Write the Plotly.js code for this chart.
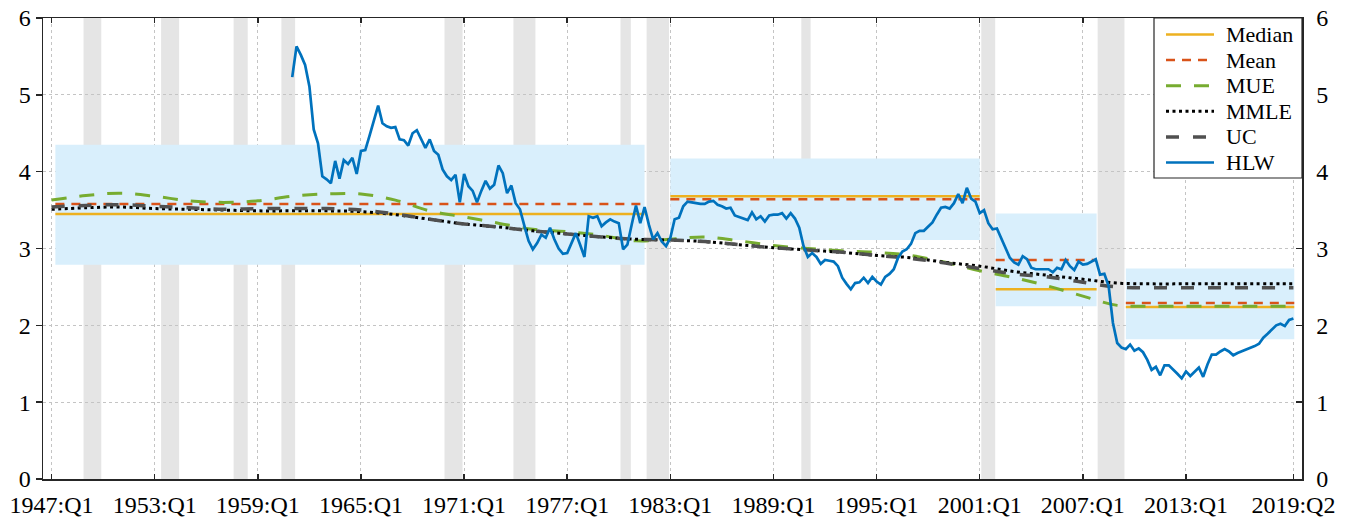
<!DOCTYPE html>
<html><head><meta charset="utf-8">
<script src="https://cdn.plot.ly/plotly-3.0.1.min.js"></script>
<style>html,body{margin:0;padding:0;background:#fff}#chart{width:1356px;height:520px}</style>
</head><body><div id="chart"></div>
<script>
// ---- data ----
const tickVals = [1947, 1953, 1959, 1965, 1971, 1977, 1983, 1989, 1995, 2001, 2007, 2013, 2019.25];
const tickText = ["1947:Q1","1953:Q1","1959:Q1","1965:Q1","1971:Q1","1977:Q1","1983:Q1","1989:Q1","1995:Q1","2001:Q1","2007:Q1","2013:Q1","2019:Q2"];

// NBER recessions (shaded), decimal years
const recessionStart = [1948.86, 1953.37, 1957.59, 1960.37, 1969.86, 1973.87, 1980.10, 1981.62, 1990.62, 2001.09, 2007.86];
const recessionEnd   = [1949.89, 1954.42, 1958.41, 1961.17, 1970.91, 1975.15, 1980.70, 1982.92, 1991.16, 2001.90, 2009.42];

// Regimes: median, mean and band
const regimeStart = [1947.22, 1983.00, 2001.93, 2009.50];
const regimeEnd   = [1981.50, 2001.00, 2007.80, 2019.30];
const medianVals  = [3.45, 3.68, 2.47, 2.24];
const meanVals    = [3.58, 3.64, 2.85, 2.29];
const bandLow     = [2.79, 3.11, 2.25, 1.82];
const bandHigh    = [4.35, 4.17, 3.455, 2.74];

// Smooth estimates sampled every two years
const smoothYears = [1947,1949,1951,1953,1955,1957,1959,1961,1963,1965,1967,1969,1971,1973,1975,1977,1979,1981,1983,1985,1987,1989,1991,1993,1995,1997,1999,2001,2003,2005,2007,2009,2011,2013,2015,2017,2019,2019.25];
const mue  = [3.63,3.69,3.72,3.68,3.62,3.60,3.62,3.68,3.71,3.71,3.63,3.49,3.41,3.33,3.25,3.22,3.17,3.10,3.12,3.15,3.10,3.04,3.00,2.97,2.95,2.91,2.82,2.71,2.62,2.51,2.38,2.26,2.25,2.25,2.25,2.25,2.25,2.25];
const mmle = [3.51,3.53,3.54,3.52,3.51,3.50,3.49,3.49,3.49,3.48,3.44,3.38,3.32,3.28,3.23,3.19,3.15,3.12,3.11,3.09,3.05,3.01,2.98,2.95,2.91,2.88,2.82,2.77,2.70,2.65,2.60,2.55,2.54,2.54,2.54,2.54,2.54,2.54];
const uc   = [3.54,3.56,3.57,3.55,3.53,3.51,3.52,3.52,3.52,3.50,3.45,3.38,3.32,3.28,3.23,3.19,3.15,3.12,3.11,3.09,3.05,3.01,2.98,2.95,2.91,2.87,2.81,2.74,2.67,2.63,2.56,2.50,2.49,2.49,2.49,2.49,2.49,2.49];

// HLW, quarterly from 1961:Q1 to 2019:Q2
const hlwStartYear = 1961;
const hlw = [
5.23,5.63,5.52,5.39, 5.11,4.55,4.37,3.94, 3.90,3.85,4.14,3.91, 4.15,4.10,4.18,3.97,
4.27,4.28,4.47,4.66, 4.86,4.63,4.59,4.57, 4.58,4.42,4.41,4.34, 4.50,4.54,4.43,4.31,
4.42,4.27,4.22,4.03, 3.94,3.89,3.96,3.60, 3.97,3.81,3.75,3.60, 3.75,3.88,3.78,3.83,
4.08,3.98,3.72,3.82, 3.59,3.51,3.30,3.10, 2.99,3.07,3.18,3.14, 3.27,3.12,3.00,2.93,
2.94,3.06,3.20,3.05, 2.89,3.42,3.40,3.42, 3.29,3.34,3.38,3.35, 3.33,2.99,3.05,3.31,
3.56,3.33,3.54,3.31, 3.12,3.20,3.09,3.03, 3.14,3.38,3.40,3.55, 3.61,3.60,3.59,3.58,
3.58,3.61,3.62,3.57, 3.55,3.52,3.53,3.43, 3.41,3.39,3.37,3.47, 3.38,3.42,3.35,3.43,
3.44,3.44,3.46,3.39, 3.46,3.39,3.27,3.03, 2.89,2.94,2.89,2.80, 2.85,2.84,2.83,2.77,
2.62,2.54,2.47,2.55, 2.56,2.62,2.55,2.63, 2.57,2.53,2.63,2.67, 2.73,2.88,2.96,2.99,
3.06,3.20,3.23,3.23, 3.29,3.34,3.44,3.53, 3.54,3.52,3.59,3.71, 3.59,3.79,3.65,3.61,
3.46,3.50,3.33,3.25, 3.26,3.14,3.01,2.88, 2.82,2.79,2.90,2.86, 2.75,2.73,2.73,2.73,
2.73,2.69,2.75,2.73, 2.85,2.77,2.72,2.83, 2.79,2.80,2.83,2.86, 2.66,2.67,2.51,2.03,
1.77,1.71,1.69,1.75, 1.67,1.70,1.65,1.55, 1.42,1.46,1.35,1.48, 1.48,1.43,1.37,1.31,
1.40,1.34,1.40,1.45, 1.33,1.49,1.62,1.62, 1.66,1.69,1.66,1.61, 1.64,1.66,1.68,1.71,
1.73,1.76,1.84,1.89, 1.94,2.00,2.02,1.99, 2.07,2.09
];

// ---- build ----
const hlwX = hlw.map((v, i) => hlwStartYear + i / 4);
function steps(vals) {
  const x = [], y = [];
  vals.forEach((v, i) => { x.push(regimeStart[i], regimeEnd[i], null); y.push(v, v, null); });
  return {x, y};
}
const med = steps(medianVals), mn = steps(meanVals);

const FONT = 'Liberation Serif, Times New Roman, serif';
const styles = {
  Median:{color:'#EDB120', width:2.5},
  Mean:{color:'#D95319', width:2.5, dash:'9px,7px'},
  MUE:{color:'#77AC30', width:3, dash:'15px,13px'},
  MMLE:{color:'#000000', width:3, dash:'3px,3.5px'},
  UC:{color:'#505050', width:3.5, dash:'13px,14px'},
  HLW:{color:'#0072BD', width:2.7}
};
const names = ['Median','Mean','MUE','MMLE','UC','HLW'];

const traces = [
  {type:'scatter', mode:'lines', name:'Median', x:med.x, y:med.y, line:styles.Median, hoverinfo:'skip'},
  {type:'scatter', mode:'lines', name:'Mean', x:mn.x, y:mn.y, line:styles.Mean, hoverinfo:'skip'},
  {type:'scatter', mode:'lines', name:'MUE', x:smoothYears, y:mue, line:Object.assign({shape:'spline'}, styles.MUE), hoverinfo:'skip'},
  {type:'scatter', mode:'lines', name:'MMLE', x:smoothYears, y:mmle, line:Object.assign({shape:'spline'}, styles.MMLE), hoverinfo:'skip'},
  {type:'scatter', mode:'lines', name:'UC', x:smoothYears, y:uc, line:Object.assign({shape:'spline'}, styles.UC), hoverinfo:'skip'},
  {type:'scatter', mode:'lines', name:'HLW', x:hlwX, y:hlw, line:styles.HLW, hoverinfo:'skip'},
  {type:'scatter', mode:'lines', x:[null], y:[null], yaxis:'y2', showlegend:false, hoverinfo:'skip'}
];

const shapes = [];
regimeStart.forEach((s, i) => shapes.push({type:'rect', xref:'x', yref:'y', x0:s, x1:regimeEnd[i], y0:bandLow[i], y1:bandHigh[i], fillcolor:'#D9EFFC', line:{width:0}, layer:'between'}));
recessionStart.forEach((s, i) => shapes.push({type:'rect', xref:'x', yref:'paper', x0:s, x1:recessionEnd[i], y0:0, y1:1, fillcolor:'#E5E5E5', line:{width:0}, layer:'between'}));

// ---- legend box (drawn in the plot's paper space) ----
const M = {l:43, r:54, t:18, b:41}, W = 1356, H = 520;
const PW = W - M.l - M.r, PH = H - M.t - M.b;
const px = v => (v - M.l) / PW, py = v => (H - M.b - v) / PH;
const LG = {x0:1154, x1:1302, y0:18, y1:178, row0:34.5, rowStep:25.6, s0:1166, s1:1214, text:1224};
shapes.push({type:'rect', xref:'paper', yref:'paper', x0:px(LG.x0), x1:px(LG.x1), y0:py(LG.y1), y1:py(LG.y0),
  fillcolor:'#ffffff', line:{color:'#262626', width:1.2}, layer:'above'});
const annotations = [];
names.forEach((n, i) => {
  const yy = py(LG.row0 + i * LG.rowStep);
  shapes.push({type:'line', xref:'paper', yref:'paper', x0:px(LG.s0), x1:px(LG.s1), y0:yy, y1:yy,
    line:{color:styles[n].color, width:styles[n].width, dash:styles[n].dash || 'solid'}, layer:'above'});
  annotations.push({xref:'paper', yref:'paper', x:px(LG.text), y:yy, xanchor:'left', yanchor:'middle', showarrow:false,
    text:n, font:{family:FONT, size:22, color:'#000'}});
});

const axisCommon = {showline:true, linecolor:'#262626', linewidth:1.5, tickcolor:'#262626', tickwidth:1.5,
  tickfont:{family:FONT, size:24, color:'#000'}, zeroline:false};

const layout = {
  width:W, height:H,
  margin:M,
  paper_bgcolor:'#fff', plot_bgcolor:'#fff',
  showlegend:false,
  xaxis:Object.assign({}, axisCommon, {range:[1946.5, 2019.75], tickmode:'array', tickvals:tickVals, ticktext:tickText,
    ticks:'inside', ticklen:5, mirror:'ticks', ticklabelstandoff:4, showgrid:true, gridcolor:'#C4C4C4', griddash:'dot', gridwidth:1}),
  yaxis:Object.assign({}, axisCommon, {range:[0,6], dtick:1, tick0:0, ticks:'outside', ticklen:6,
    showgrid:true, gridcolor:'#C4C4C4', griddash:'dot', gridwidth:1}),
  yaxis2:Object.assign({}, axisCommon, {range:[0,6], dtick:1, tick0:0, overlaying:'y', side:'right', ticks:'inside', ticklen:6, ticklabelstandoff:8, showgrid:false}),
  shapes:shapes,
  annotations:annotations
};

Plotly.newPlot('chart', traces, layout, {staticPlot:true, displayModeBar:false});
</script>
</body></html>
